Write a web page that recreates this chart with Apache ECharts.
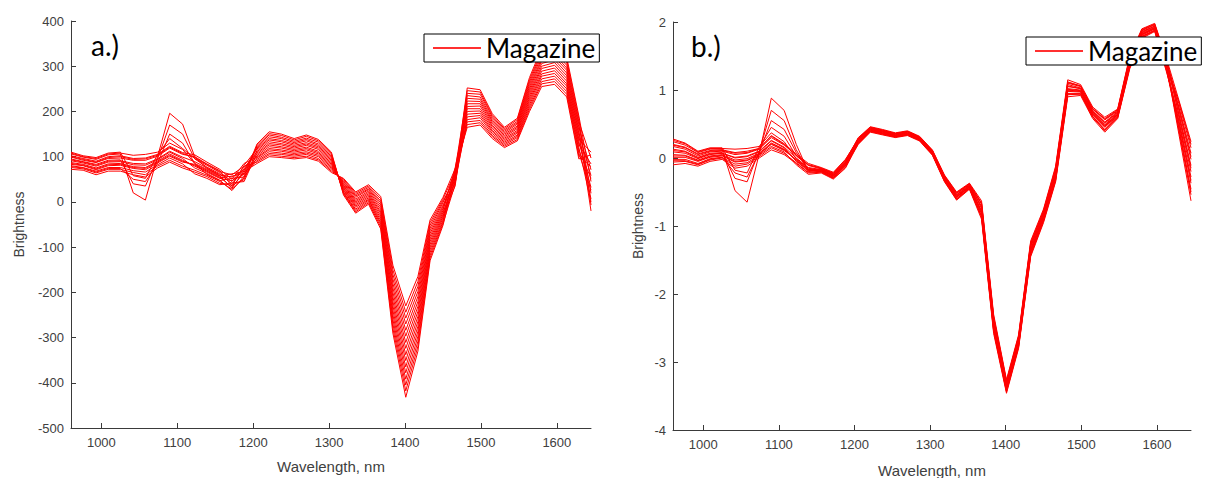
<!DOCTYPE html>
<html>
<head>
<meta charset="utf-8">
<script src="https://cdn.jsdelivr.net/npm/echarts@6/dist/echarts.min.js"></script>
<style>
html,body{margin:0;padding:0;background:#fff;}
#chart{width:1211px;height:478px;}
</style>
</head>
<body>
<div id="chart"></div>
<script>
// Wavelengths (nm) of the 43 spectral points
const wavelengths = [960,976,993,1009,1025,1042,1058,1074,1090,1107,1123,1139,1156,1172,1188,1205,1221,1237,1254,1270,1286,1303,1319,1335,1352,1368,1384,1401,1417,1433,1450,1466,1482,1499,1515,1531,1548,1564,1580,1597,1613,1629,1645];
const xTicks = [1000,1100,1200,1300,1400,1500,1600];
const seriesName = 'Magazine';
const panelLabels = ['a.)','b.)'];

// Panel a: raw brightness spectra (16 magazine samples)
const a01 = [91,86,79,88,89,82,81,93,110,96,75,63,48,25,57,128,155,150,140,148,138,110,15,-25,-5,-60,-290,-432,-330,-130,-52,55,252,248,195,165,185,275,340,350,320,190,45];
const a02 = [76,73,64,72,72,65,60,79,92,79,70,59,45,28,53,125,151,147,137,145,135,107,18,-22,-2,-55,-280,-418,-319,-124,-48,39,246,243,191,162,182,270,334,344,314,184,-7];
const a03 = [106,99,94,104,106,20,4,100,196,172,100,74,58,30,69,122,148,143,134,141,132,104,20,-19,1,-50,-270,-405,-308,-118,-44,71,240,238,188,159,178,265,329,338,308,177,97];
const a04 = [83,80,71,80,81,74,71,86,101,88,83,70,55,32,65,119,144,140,131,138,128,101,22,-16,4,-46,-260,-392,-297,-112,-40,47,235,232,184,156,175,260,323,332,302,171,19];
const a05 = [99,92,87,96,97,92,92,101,119,105,100,84,69,35,81,117,140,136,128,135,125,98,25,-12,6,-41,-250,-378,-286,-106,-35,63,229,227,180,153,172,255,317,326,296,165,71];
const a06 = [72,70,60,68,68,60,55,75,88,75,66,56,41,37,49,114,137,133,125,131,122,95,27,-9,9,-36,-240,-365,-275,-100,-31,35,223,222,177,150,168,250,312,320,291,158,-20];
const a07 = [95,89,83,92,93,40,35,95,170,150,95,77,62,40,73,111,133,129,122,128,119,92,30,-6,12,-31,-230,-351,-264,-94,-27,59,217,217,173,147,165,245,306,314,285,152,58];
const a08 = [80,76,68,76,76,69,66,82,97,84,62,52,38,42,45,108,129,126,119,125,116,89,32,-3,15,-26,-220,-338,-253,-88,-23,43,211,212,169,144,162,240,300,308,279,146,6];
const a09 = [110,102,98,108,110,58,52,105,140,118,96,81,65,45,77,105,126,122,116,121,112,86,35,0,18,-22,-210,-324,-242,-82,-19,75,206,206,166,141,158,235,295,302,273,139,110];
const a10 = [87,83,75,84,85,78,76,90,106,92,79,66,52,47,61,102,122,119,113,118,109,83,37,3,21,-17,-200,-311,-231,-76,-15,51,200,201,162,138,155,230,289,296,267,133,32];
const a11 = [102,96,90,100,102,96,97,105,123,109,104,88,72,50,85,99,118,115,110,115,106,80,40,6,24,-12,-190,-297,-220,-70,-11,67,194,196,158,135,152,225,283,290,261,127,84];
const a12 = [78,75,66,74,74,50,45,85,150,130,85,61,47,52,55,97,115,112,107,111,103,77,42,10,27,-7,-180,-284,-209,-64,-7,41,188,191,155,132,148,220,278,284,256,120,0];
const a13 = [93,88,81,90,91,85,84,95,112,99,89,75,60,55,71,94,111,108,104,108,100,74,45,13,29,-2,-170,-270,-198,-58,-2,57,182,186,151,129,145,215,272,278,250,114,52];
const a14 = [85,81,73,82,83,76,74,88,103,90,81,68,53,57,63,91,107,105,101,105,96,71,47,16,32,2,-160,-257,-187,-52,2,49,177,180,147,126,142,210,266,272,244,108,26];
const a15 = [100,94,88,98,100,94,95,103,121,107,98,83,67,60,79,88,104,101,98,101,93,68,50,19,35,7,-150,-244,-176,-46,6,65,171,175,144,123,138,205,261,266,238,101,78];
const a16 = [108,100,96,106,108,103,105,110,130,116,85,72,57,62,67,85,100,98,95,98,90,65,52,22,38,12,-140,-230,-165,-40,10,73,165,170,140,120,135,200,255,260,232,95,104];

// Panel b: normalized spectra of the same samples
const b01 = [0.09,0.07,-0.01,0.05,0.07,0.00,0.02,0.09,0.25,0.15,-0.05,-0.19,-0.20,-0.28,-0.11,0.20,0.38,0.34,0.30,0.33,0.25,0.04,-0.35,-0.62,-0.46,-0.90,-2.58,-3.46,-2.80,-1.45,-0.95,-0.35,0.90,0.92,0.58,0.38,0.58,1.31,1.76,1.86,1.25,0.60,-0.20];
const b02 = [-0.06,-0.05,-0.10,-0.03,0.00,-0.12,-0.09,0.02,0.15,0.07,-0.07,-0.21,-0.20,-0.29,-0.12,0.25,0.42,0.38,0.34,0.37,0.29,0.08,-0.30,-0.56,-0.42,-0.77,-2.44,-3.36,-2.70,-1.34,-0.85,-0.24,1.02,1.00,0.67,0.49,0.65,1.40,1.83,1.92,1.35,0.40,-0.54];
const b03 = [0.24,0.19,0.08,0.13,0.13,-0.48,-0.65,0.06,0.88,0.70,0.20,-0.20,-0.17,-0.25,-0.07,0.28,0.44,0.40,0.36,0.39,0.31,0.10,-0.27,-0.52,-0.39,-0.68,-2.36,-3.30,-2.64,-1.27,-0.79,-0.17,1.10,1.05,0.72,0.56,0.69,1.46,1.87,1.96,1.41,0.80,0.15];
const b04 = [0.01,0.01,-0.05,0.01,0.03,-0.06,-0.04,0.05,0.20,0.11,-0.02,-0.16,-0.18,-0.26,-0.09,0.22,0.40,0.36,0.31,0.34,0.26,0.06,-0.33,-0.60,-0.44,-0.85,-2.52,-3.42,-2.76,-1.40,-0.91,-0.30,0.95,0.95,0.61,0.42,0.61,1.35,1.79,1.88,1.29,0.50,-0.37];
const b05 = [0.17,0.13,0.03,0.09,0.10,0.05,0.07,0.13,0.30,0.19,0.04,-0.10,-0.15,-0.22,-0.03,0.29,0.45,0.41,0.36,0.39,0.31,0.11,-0.26,-0.51,-0.38,-0.66,-2.33,-3.28,-2.62,-1.24,-0.77,-0.14,1.12,1.06,0.73,0.58,0.71,1.48,1.89,1.97,1.43,0.70,-0.02];
const b06 = [-0.10,-0.08,-0.12,-0.05,-0.02,-0.15,-0.12,0.00,0.12,0.05,-0.08,-0.22,-0.21,-0.30,-0.14,0.24,0.41,0.37,0.33,0.36,0.28,0.07,-0.31,-0.57,-0.42,-0.79,-2.47,-3.38,-2.72,-1.36,-0.87,-0.26,1.00,0.98,0.65,0.47,0.64,1.39,1.82,1.91,1.33,0.35,-0.63];
const b07 = [0.13,0.10,0.01,0.07,0.08,-0.30,-0.35,0.10,0.70,0.55,0.12,-0.18,-0.16,-0.24,-0.06,0.26,0.43,0.39,0.34,0.37,0.29,0.09,-0.29,-0.55,-0.41,-0.74,-2.41,-3.34,-2.68,-1.31,-0.83,-0.21,1.05,1.02,0.68,0.51,0.66,1.42,1.84,1.93,1.37,0.65,-0.11];
const b08 = [-0.02,-0.02,-0.08,-0.01,0.01,-0.09,-0.07,0.04,0.17,0.09,-0.10,-0.24,-0.22,-0.31,-0.15,0.21,0.39,0.35,0.31,0.34,0.26,0.05,-0.34,-0.61,-0.45,-0.87,-2.55,-3.44,-2.78,-1.43,-0.93,-0.33,0.93,0.94,0.60,0.40,0.59,1.33,1.77,1.87,1.27,0.45,-0.46];
const b09 = [0.28,0.22,0.10,0.15,0.15,-0.18,-0.22,0.16,0.45,0.32,0.03,-0.11,-0.16,-0.23,-0.05,0.30,0.46,0.42,0.37,0.40,0.32,0.12,-0.25,-0.50,-0.37,-0.63,-2.30,-3.26,-2.60,-1.22,-0.75,-0.12,1.15,1.08,0.75,0.60,0.72,1.50,1.90,1.98,1.45,0.85,0.24];
const b10 = [0.05,0.04,-0.03,0.03,0.05,-0.03,-0.01,0.07,0.22,0.13,-0.04,-0.18,-0.19,-0.27,-0.10,0.23,0.40,0.36,0.32,0.35,0.27,0.06,-0.32,-0.58,-0.43,-0.82,-2.50,-3.40,-2.74,-1.38,-0.89,-0.28,0.98,0.97,0.63,0.45,0.62,1.37,1.80,1.90,1.31,0.55,-0.28];
const b11 = [0.20,0.16,0.06,0.11,0.12,0.08,0.10,0.14,0.33,0.21,0.06,-0.08,-0.14,-0.21,-0.02,0.27,0.44,0.40,0.35,0.38,0.30,0.10,-0.28,-0.54,-0.40,-0.71,-2.38,-3.32,-2.66,-1.29,-0.81,-0.19,1.08,1.03,0.70,0.53,0.68,1.44,1.86,1.94,1.39,0.75,0.07];
const b12 = [-0.04,-0.04,-0.09,-0.02,0.01,-0.22,-0.28,0.08,0.55,0.42,0.08,-0.17,-0.20,-0.29,-0.12,0.25,0.42,0.38,0.33,0.36,0.28,0.08,-0.31,-0.57,-0.42,-0.78,-2.45,-3.37,-2.71,-1.35,-0.86,-0.25,1.01,0.99,0.66,0.48,0.64,1.40,1.82,1.91,1.34,0.43,-0.50];
const b13 = [0.11,0.09,0.00,0.06,0.07,0.01,0.03,0.10,0.26,0.16,0.00,-0.14,-0.17,-0.25,-0.07,0.29,0.45,0.41,0.36,0.39,0.31,0.11,-0.27,-0.52,-0.38,-0.67,-2.34,-3.29,-2.63,-1.26,-0.78,-0.16,1.11,1.06,0.72,0.57,0.70,1.47,1.88,1.96,1.42,0.63,-0.15];
const b14 = [0.03,0.03,-0.04,0.02,0.04,-0.05,-0.03,0.06,0.21,0.12,-0.03,-0.17,-0.18,-0.27,-0.09,0.22,0.39,0.35,0.31,0.34,0.26,0.05,-0.34,-0.60,-0.45,-0.86,-2.54,-3.43,-2.77,-1.42,-0.92,-0.32,0.94,0.94,0.61,0.41,0.60,1.34,1.78,1.88,1.28,0.53,-0.33];
const b15 = [0.19,0.15,0.05,0.10,0.11,0.07,0.08,0.14,0.32,0.20,0.04,-0.10,-0.15,-0.23,-0.04,0.27,0.43,0.39,0.35,0.38,0.30,0.09,-0.29,-0.54,-0.40,-0.72,-2.40,-3.33,-2.67,-1.30,-0.82,-0.20,1.06,1.02,0.69,0.52,0.67,1.43,1.85,1.94,1.38,0.73,0.02];
const b16 = [0.26,0.21,0.09,0.14,0.14,0.13,0.14,0.17,0.37,0.24,-0.01,-0.15,-0.18,-0.26,-0.08,0.24,0.41,0.37,0.32,0.35,0.27,0.07,-0.32,-0.58,-0.43,-0.81,-2.48,-3.39,-2.73,-1.37,-0.88,-0.27,0.99,0.98,0.64,0.46,0.63,1.38,1.81,1.90,1.32,0.83,0.20];

const spectraA = [a01,a02,a03,a04,a05,a06,a07,a08,a09,a10,a11,a12,a13,a14,a15,a16];
const spectraB = [b01,b02,b03,b04,b05,b06,b07,b08,b09,b10,b11,b12,b13,b14,b15,b16];

const AXIS_COLOR = '#3a3a3a';
const LABEL_COLOR = '#404040';
const SANS = '"Liberation Sans", Arial, Helvetica, sans-serif';
const CAL = 'Lato, "Open Sans", sans-serif';

function xAxisFor(gridIndex, gap){
  return {
    type:'value', gridIndex, min:960, max:1645,
    name:'Wavelength, nm', nameLocation:'middle', nameGap:gap,
    nameTextStyle:{color:LABEL_COLOR, fontSize:15, fontFamily:SANS},
    axisLine:{show:true, onZero:false, lineStyle:{color:AXIS_COLOR, width:1}},
    axisTick:{show:true, inside:true, length:5, customValues:xTicks, lineStyle:{color:AXIS_COLOR}},
    axisLabel:{customValues:xTicks, formatter:v => String(v), color:LABEL_COLOR, fontSize:13, fontFamily:SANS, margin:8},
    splitLine:{show:false}
  };
}
function yAxisFor(gridIndex, min, max, interval, gap){
  return {
    type:'value', gridIndex, min, max, interval,
    name:'Brightness', nameLocation:'middle', nameGap:gap, nameRotate:90,
    nameTextStyle:{color:LABEL_COLOR, fontSize:14, fontFamily:SANS},
    axisLine:{show:true, onZero:false, lineStyle:{color:AXIS_COLOR, width:1}},
    axisTick:{show:true, inside:true, length:5, lineStyle:{color:AXIS_COLOR}},
    axisLabel:{formatter:v => String(v), color:LABEL_COLOR, fontSize:13, fontFamily:SANS, margin:7},
    splitLine:{show:false}
  };
}

const series = [];
spectraA.forEach(arr => series.push({
  type:'line', name:seriesName, xAxisIndex:0, yAxisIndex:0,
  data: arr.map((v,i)=>[wavelengths[i], v]),
  symbol:'none', showSymbol:false, lineStyle:{color:'#ff0000', width:1}, itemStyle:{color:'#ff0000'},
  silent:true
}));
spectraB.forEach(arr => series.push({
  type:'line', name:seriesName, xAxisIndex:1, yAxisIndex:1,
  data: arr.map((v,i)=>[wavelengths[i], v]),
  symbol:'none', showSymbol:false, lineStyle:{color:'#ff0000', width:1}, itemStyle:{color:'#ff0000'},
  silent:true
}));

function legendAt(left, top){
  return {
    data:[seriesName], left, top, orient:'horizontal',
    backgroundColor:'#ffffff', borderColor:'#000000', borderWidth:1, borderRadius:0,
    padding:[1,4,1,9], itemWidth:48, itemHeight:2, icon:'rect',
    itemStyle:{color:'#ff3030'},
    textStyle:{color:'#000', fontSize:26, fontFamily:CAL},
    selectedMode:false
  };
}

const chart = echarts.init(document.getElementById('chart'), null, {renderer:'svg'});
chart.setOption({
  animation:false,
  backgroundColor:'#ffffff',
  title:[
    {text:panelLabels[0], left:86, top:26, textStyle:{color:'#000', fontSize:28, fontWeight:'normal', fontFamily:CAL}},
    {text:panelLabels[1], left:686, top:27, textStyle:{color:'#000', fontSize:28, fontWeight:'normal', fontFamily:CAL}}
  ],
  legend:[legendAt(424, 34), legendAt(1026, 37)],
  grid:[
    {left:71, right:620, top:21, bottom:50, containLabel:false, outerBoundsMode:'none'},
    {left:673, right:20, top:22, bottom:48, containLabel:false, outerBoundsMode:'none'}
  ],
  xAxis:[xAxisFor(0, 31), xAxisFor(1, 33)],
  yAxis:[yAxisFor(0,-500,400,100,45), yAxisFor(1,-4,2,1,28)],
  series
});
</script>
</body>
</html>
